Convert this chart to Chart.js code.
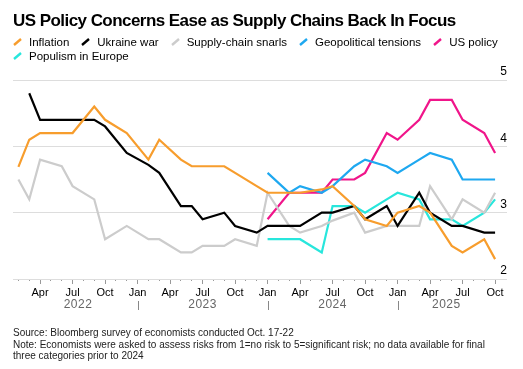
<!DOCTYPE html>
<html>
<head>
<meta charset="utf-8">
<script src="https://cdn.jsdelivr.net/npm/chart.js@4.4.1/dist/chart.umd.min.js"></script>
<style>
    body { margin: 0; background: #fff; font-family: "Liberation Sans", Arial, sans-serif; }
    #wrap { position: relative; width: 523px; height: 369px; overflow: hidden; }
    #chart { position: absolute; left: 0; top: 0; }
    .title { position: absolute; left: 13px; top: 12px; font-size: 17px; line-height: 17px; font-weight: bold; letter-spacing: -0.55px; color: #000; white-space: nowrap; }
    .legend { position: absolute; left: 13px; top: 35px; width: 505px; display: flex; flex-wrap: wrap; font-size: 11.5px; line-height: 14px; color: #000; }
    .legend .item { display: flex; align-items: center; margin-right: 12px; white-space: nowrap; }
    .legend svg { margin-right: 7px; }
    .notes { position: absolute; left: 13px; top: 327px; width: 480px; font-size: 10px; line-height: 11.7px; color: #222; }
</style>
</head>
<body>
<div id="wrap">
    <canvas id="chart" width="523" height="369"></canvas>
    <div class="title">US Policy Concerns Ease as Supply Chains Back In Focus</div>
    <div class="legend" id="legend"></div>
    <div class="notes">Source: Bloomberg survey of economists conducted Oct. 17-22<br>Note: Economists were asked to assess risks from 1=no risk to 5=significant risk; no data available for final three categories prior to 2024</div>
</div>
<script>
// month index: 0 = Jan 2022, survey months run Feb 2022 (1) .. Oct 2025 (45)
const firstMonth = 1;
const lastMonth = 45;
const monthNames = ["Jan", "Apr", "Jul", "Oct"];
const years = ["2022", "2023", "2024", "2025"];

// one value per month from Feb 2022, null = no survey that month
const inflation = [
    3.69, 4.1, 4.2, null, 4.2, 4.2, null, 4.6, 4.4, null, 4.2,
    null, 3.8, 4.1, null, 3.8, 3.7, 3.7, null, 3.7, 3.6, null, 3.4,
    3.3, null, 3.3, 3.3, null, 3.35, 3.4, null, 3.1, 2.9, null, 2.8,
    3.0, null, 3.1, 3.0, null, 2.5, 2.4, null, 2.6, 2.3,
];
const ukraineWar = [
    null, 4.8, 4.4, null, 4.4, 4.4, null, 4.4, 4.3, null, 3.9,
    null, 3.72, 3.6, null, 3.1, 3.1, 2.9, null, 3.0, 2.8, null, 2.7,
    2.8, null, 2.8, 2.8, null, 3.0, 3.0, null, 3.1, 2.9, null, 3.1,
    2.8, null, 3.3, 3.0, null, 2.8, 2.8, null, 2.7, 2.7,
];
const supplyChain = [
    3.5, 3.2, 3.8, null, 3.7, 3.4, null, 3.2, 2.6, null, 2.8,
    null, 2.6, 2.6, null, 2.4, 2.4, 2.5, null, 2.5, 2.6, null, 2.5,
    3.3, null, 2.8, 2.7, null, 2.8, 2.88, null, 3.0, 2.7, null, 2.8,
    2.8, null, 2.8, 3.4, null, 2.9, 3.2, null, 3.0, 3.3,
];
const geopolitical = [
    null, null, null, null, null, null, null, null, null, null, null,
    null, null, null, null, null, null, null, null, null, null, null, null,
    3.6, null, 3.3, 3.4, null, 3.3, 3.4, null, 3.7, 3.8, null, 3.7,
    3.6, null, 3.8, 3.9, null, 3.8, 3.5, null, 3.5, 3.5,
];
const usPolicy = [
    null, null, null, null, null, null, null, null, null, null, null,
    null, null, null, null, null, null, null, null, null, null, null, null,
    2.9, null, 3.3, 3.3, null, 3.3, 3.5, null, 3.5, 3.6, null, 4.2,
    4.1, null, 4.4, 4.7, null, 4.7, 4.4, null, 4.2, 3.9,
];
const populism = [
    null, null, null, null, null, null, null, null, null, null, null,
    null, null, null, null, null, null, null, null, null, null, null, null,
    2.6, null, 2.6, 2.6, null, 2.4, 3.1, null, 3.1, 3.0, null, 3.2,
    3.3, null, 3.2, 2.9, null, 2.9, 2.8, null, 3.0, 3.2,
];

const seriesList = [
    { label: "Inflation", values: inflation, color: "#f79d2d" },
    { label: "Ukraine war", values: ukraineWar, color: "#000000" },
    { label: "Supply-chain snarls", values: supplyChain, color: "#cccccc" },
    { label: "Geopolitical tensions", values: geopolitical, color: "#1ea8f0" },
    { label: "US policy", values: usPolicy, color: "#f0158a" },
    { label: "Populism in Europe", values: populism, color: "#28e6dc" },
];

function toPoints(values) {
    const pts = [];
    values.forEach((v, i) => {
        if (v !== null) pts.push({ x: firstMonth + i, y: v });
    });
    return pts;
}

// html legend with slanted strokes
const legendEl = document.getElementById("legend");
seriesList.forEach((s) => {
    const item = document.createElement("div");
    item.className = "item";
    item.innerHTML =
        '<svg width="9" height="8"><line x1="1" y1="7" x2="8" y2="1" stroke="' +
        s.color + '" stroke-width="2.4"/></svg><span>' + s.label + "</span>";
    legendEl.appendChild(item);
});

const yearRow = {
    id: "yearRow",
    afterDraw(chart) {
        const xs = chart.scales.x;
        const ctx = chart.ctx;
        const y = chart.chartArea.bottom + 26;
        ctx.save();
        ctx.font = "12px 'Liberation Sans', Arial, sans-serif";
        ctx.fillStyle = "#666";
        ctx.textAlign = "center";
        ctx.textBaseline = "middle";
        ctx.letterSpacing = "0.5px";
        years.forEach((yr, i) => {
            const start = i * 12;
            const a = Math.max(start, firstMonth);
            const b = Math.min(start + 12, lastMonth);
            ctx.fillText(yr, xs.getPixelForValue((a + b) / 2), y);
            if (i > 0) {
                const px = Math.round(xs.getPixelForValue(start)) + 0.5;
                ctx.strokeStyle = "#888";
                ctx.lineWidth = 1;
                ctx.beginPath();
                ctx.moveTo(px, y - 4);
                ctx.lineTo(px, y + 5);
                ctx.stroke();
            }
        });
        ctx.restore();
    },
};

new Chart(document.getElementById("chart"), {
    type: "line",
    data: {
        datasets: seriesList.map((s) => ({
            label: s.label,
            data: toPoints(s.values),
            borderColor: s.color,
            backgroundColor: s.color,
            borderWidth: 2.2,
            pointRadius: 0,
            tension: 0,
            fill: false,
        })),
    },
    options: {
        responsive: false,
        animation: false,
        devicePixelRatio: 1,
        layout: {
            padding: { top: 80, left: 13, right: 16, bottom: 60 },
        },
        plugins: {
            legend: { display: false },
            tooltip: { enabled: false },
        },
        scales: {
            x: {
                type: "linear",
                min: 0.5,
                max: 46.1,
                afterBuildTicks: (scale) => {
                    const t = [];
                    for (let m = firstMonth; m <= lastMonth; m++) t.push({ value: m });
                    scale.ticks = t;
                },
                afterFit: (scale) => {
                    scale.height = 30;
                },
                border: { display: false },
                grid: {
                    drawOnChartArea: false,
                    tickLength: 5,
                    tickColor: "#999",
                    tickBorderDash: (ctx) => (ctx.tick && ctx.tick.value % 3 === 0 ? [] : [2, 20]),
                },
                ticks: {
                    autoSkip: false,
                    maxRotation: 0,
                    padding: 2,
                    color: "#000",
                    font: { family: "'Liberation Sans', Arial, sans-serif", size: 11 },
                    callback: (value) => (value % 3 === 0 ? monthNames[(value % 12) / 3] : ""),
                },
            },
            y: {
                position: "right",
                min: 2,
                max: 5,
                border: { display: false },
                grid: { color: "#dddddd", lineWidth: 1, drawTicks: false },
                ticks: {
                    stepSize: 1,
                    mirror: true,
                    padding: 0,
                    labelOffset: -8,
                    color: "#000",
                    font: { family: "'Liberation Sans', Arial, sans-serif", size: 12 },
                },
            },
        },
    },
    plugins: [yearRow],
});
</script>
</body>
</html>
